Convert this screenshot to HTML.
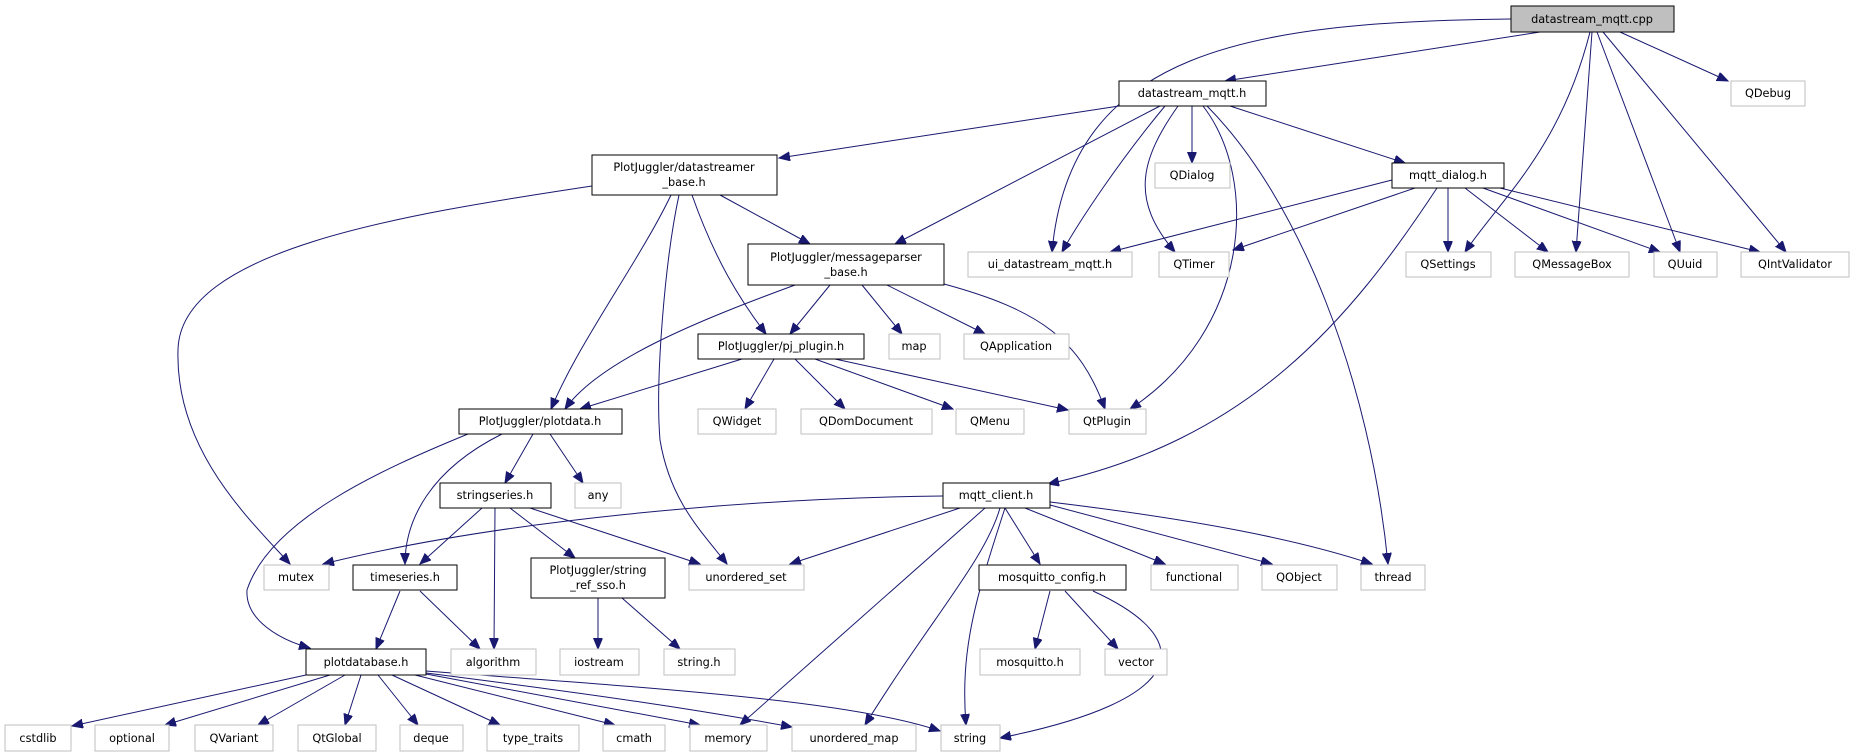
<!DOCTYPE html>
<html><head><meta charset="utf-8"><style>
html,body{margin:0;padding:0;background:#fff;}
svg{display:block}
text{font-family:"DejaVu Sans","Liberation Sans",sans-serif;font-size:11.3px;fill:#000;text-anchor:middle}
.b{fill:#fff;stroke:#000;stroke-width:1}
.g{fill:#fff;stroke:#bfbfbf;stroke-width:1}
path{fill:none;stroke:#191970;stroke-width:1}
</style></head><body>
<svg width="1854" height="753" viewBox="0 0 1854 753" xmlns="http://www.w3.org/2000/svg">
<defs><marker id="a" markerUnits="userSpaceOnUse" markerWidth="12" markerHeight="10" refX="11" refY="4.5" orient="auto"><path d="M0,0 L11,4.5 L0,9 Z" style="fill:#191970;stroke:#191970"/></marker></defs>
<g marker-end="url(#a)">
<path d="M1540,32 L1225,81"/>
<path d="M1511,19 C1250,22 1070,50 1052,252"/>
<path d="M1620,32 L1728,81"/>
<path d="M1590,32 C1560,150 1500,200 1465,252"/>
<path d="M1592,32 L1576,252"/>
<path d="M1597,32 L1680,252"/>
<path d="M1603,32 L1786,252"/>
<path d="M1119,106 L779,158"/>
<path d="M1160,106 L895,244"/>
<path d="M1165,106 C1120,160 1080,220 1062,252"/>
<path d="M1178,106 C1140,160 1130,200 1175,252"/>
<path d="M1192,106 L1192,163"/>
<path d="M1203,106 C1260,180 1250,330 1130,409"/>
<path d="M1207,106 C1300,200 1370,380 1388,564"/>
<path d="M1230,106 L1405,163"/>
<path d="M1392,180 L1110,252"/>
<path d="M1415,188 L1233,250"/>
<path d="M1437,188 C1350,320 1250,440 1048,484"/>
<path d="M1448,188 L1448,252"/>
<path d="M1465,188 L1548,252"/>
<path d="M1483,188 L1660,252"/>
<path d="M1500,188 L1760,252"/>
<path d="M720,195 L810,244"/>
<path d="M692,195 C715,260 740,300 766,334"/>
<path d="M671,195 C640,260 580,340 551,409"/>
<path d="M679,195 C665,260 655,380 660,440 C670,500 700,530 727,564"/>
<path d="M592,186 C400,215 180,250 178,350 C175,450 250,520 290,564"/>
<path d="M795,285 C700,320 600,360 565,409"/>
<path d="M830,285 L790,334"/>
<path d="M862,285 L902,334"/>
<path d="M887,285 L985,334"/>
<path d="M944,284 C1040,310 1080,340 1105,409"/>
<path d="M742,359 L580,409"/>
<path d="M774,359 L745,409"/>
<path d="M795,359 L845,409"/>
<path d="M815,359 L953,409"/>
<path d="M835,359 L1068,410"/>
<path d="M468,434 C380,470 270,520 247,590 C245,620 280,640 310,648"/>
<path d="M502,434 C430,470 405,520 405,564"/>
<path d="M533,434 L505,483"/>
<path d="M550,434 L583,483"/>
<path d="M482,508 L420,564"/>
<path d="M495,508 L494,649"/>
<path d="M510,508 L575,558"/>
<path d="M530,508 L700,564"/>
<path d="M960,508 L790,564"/>
<path d="M943,496 C750,498 500,520 323,564"/>
<path d="M985,508 L740,725"/>
<path d="M1000,508 C985,560 930,620 865,725"/>
<path d="M1005,508 C975,600 960,650 966,725"/>
<path d="M1005,508 L1040,564"/>
<path d="M1025,508 L1165,564"/>
<path d="M1050,505 L1272,564"/>
<path d="M1050,502 C1200,520 1300,540 1372,564"/>
<path d="M400,591 L376,649"/>
<path d="M420,591 L480,649"/>
<path d="M598,598 L598,649"/>
<path d="M622,598 L680,649"/>
<path d="M1050,591 L1035,649"/>
<path d="M1065,591 L1118,649"/>
<path d="M1093,591 C1200,640 1190,700 1000,738"/>
<path d="M306,675 L72,726"/>
<path d="M330,675 L165,725"/>
<path d="M345,675 L258,725"/>
<path d="M361,675 L345,725"/>
<path d="M378,675 L418,725"/>
<path d="M392,675 L500,725"/>
<path d="M415,675 L615,725"/>
<path d="M426,674 L700,725"/>
<path d="M426,673 C600,695 700,710 792,727"/>
<path d="M426,671 C650,688 850,700 940,731"/>
</g>
<g>
<rect x="1511" y="6" width="163" height="26" style="fill:#bfbfbf;stroke:#000"/><text x="1592" y="23">datastream_mqtt.cpp</text>
<rect class="b" x="1119" y="81" width="147" height="25"/><text x="1192" y="97">datastream_mqtt.h</text>
<rect class="g" x="1731" y="81" width="74" height="25"/><text x="1768" y="97">QDebug</text>
<rect class="b" x="592" y="155" width="185" height="40"/><text x="684" y="171">PlotJuggler/datastreamer</text><text x="684" y="186">_base.h</text>
<rect class="g" x="1155" y="163" width="75" height="25"/><text x="1192" y="179">QDialog</text>
<rect class="b" x="1392" y="163" width="112" height="25"/><text x="1448" y="179">mqtt_dialog.h</text>
<rect class="b" x="748" y="244" width="196" height="41"/><text x="846" y="261">PlotJuggler/messageparser</text><text x="846" y="276">_base.h</text>
<rect class="g" x="968" y="252" width="164" height="25"/><text x="1050" y="268">ui_datastream_mqtt.h</text>
<rect class="g" x="1159" y="252" width="70" height="25"/><text x="1194" y="268">QTimer</text>
<rect class="g" x="1406" y="252" width="85" height="25"/><text x="1448" y="268">QSettings</text>
<rect class="g" x="1515" y="252" width="114" height="25"/><text x="1572" y="268">QMessageBox</text>
<rect class="g" x="1654" y="252" width="63" height="25"/><text x="1685" y="268">QUuid</text>
<rect class="g" x="1741" y="252" width="108" height="25"/><text x="1795" y="268">QIntValidator</text>
<rect class="b" x="698" y="334" width="166" height="25"/><text x="781" y="350">PlotJuggler/pj_plugin.h</text>
<rect class="g" x="889" y="334" width="51" height="25"/><text x="914" y="350">map</text>
<rect class="g" x="964" y="334" width="105" height="25"/><text x="1016" y="350">QApplication</text>
<rect class="b" x="459" y="409" width="163" height="25"/><text x="540" y="425">PlotJuggler/plotdata.h</text>
<rect class="g" x="698" y="409" width="78" height="25"/><text x="737" y="425">QWidget</text>
<rect class="g" x="801" y="409" width="131" height="25"/><text x="866" y="425">QDomDocument</text>
<rect class="g" x="956" y="409" width="68" height="25"/><text x="990" y="425">QMenu</text>
<rect class="g" x="1069" y="409" width="77" height="25"/><text x="1107" y="425">QtPlugin</text>
<rect class="b" x="440" y="483" width="111" height="25"/><text x="495" y="499">stringseries.h</text>
<rect class="g" x="575" y="483" width="46" height="25"/><text x="598" y="499">any</text>
<rect class="b" x="943" y="483" width="107" height="25"/><text x="996" y="499">mqtt_client.h</text>
<rect class="g" x="264" y="565" width="65" height="25"/><text x="296" y="581">mutex</text>
<rect class="b" x="353" y="565" width="104" height="25"/><text x="405" y="581">timeseries.h</text>
<rect class="b" x="531" y="558" width="134" height="40"/><text x="598" y="574">PlotJuggler/string</text><text x="598" y="589">_ref_sso.h</text>
<rect class="g" x="689" y="565" width="115" height="25"/><text x="746" y="581">unordered_set</text>
<rect class="b" x="979" y="565" width="147" height="25"/><text x="1052" y="581">mosquitto_config.h</text>
<rect class="g" x="1151" y="565" width="87" height="25"/><text x="1194" y="581">functional</text>
<rect class="g" x="1262" y="565" width="75" height="25"/><text x="1299" y="581">QObject</text>
<rect class="g" x="1361" y="565" width="64" height="25"/><text x="1393" y="581">thread</text>
<rect class="b" x="306" y="649" width="120" height="26"/><text x="366" y="666">plotdatabase.h</text>
<rect class="g" x="451" y="649" width="85" height="26"/><text x="493" y="666">algorithm</text>
<rect class="g" x="560" y="649" width="79" height="26"/><text x="599" y="666">iostream</text>
<rect class="g" x="664" y="649" width="71" height="26"/><text x="699" y="666">string.h</text>
<rect class="g" x="980" y="649" width="100" height="26"/><text x="1030" y="666">mosquitto.h</text>
<rect class="g" x="1105" y="649" width="62" height="26"/><text x="1136" y="666">vector</text>
<rect class="g" x="5" y="725" width="66" height="26"/><text x="38" y="742">cstdlib</text>
<rect class="g" x="95" y="725" width="74" height="26"/><text x="132" y="742">optional</text>
<rect class="g" x="195" y="725" width="78" height="26"/><text x="234" y="742">QVariant</text>
<rect class="g" x="298" y="725" width="78" height="26"/><text x="337" y="742">QtGlobal</text>
<rect class="g" x="400" y="725" width="63" height="26"/><text x="431" y="742">deque</text>
<rect class="g" x="487" y="725" width="92" height="26"/><text x="533" y="742">type_traits</text>
<rect class="g" x="603" y="725" width="62" height="26"/><text x="634" y="742">cmath</text>
<rect class="g" x="690" y="725" width="77" height="26"/><text x="728" y="742">memory</text>
<rect class="g" x="792" y="725" width="124" height="26"/><text x="854" y="742">unordered_map</text>
<rect class="g" x="941" y="725" width="59" height="26"/><text x="970" y="742">string</text>
</g>
</svg>
</body></html>
